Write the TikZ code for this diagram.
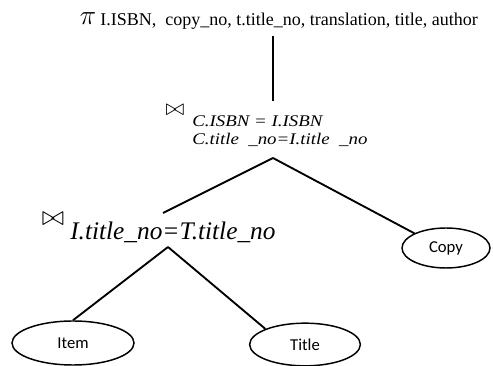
\documentclass[tikz,border=0pt]{standalone}
\usepackage{fontspec}
\setmainfont{Liberation Serif}
\newfontfamily\relfont{Carlito}
\newfontfamily\condfont{Liberation Serif}[FakeStretch=1.16]
\usetikzlibrary{shapes.geometric}

\tikzset{
  edge/.style={line width=1.4pt},
  relation/.style={draw,line width=1.1pt,ellipse,inner sep=0pt,
    font=\relfont\fontsize{12.5}{14}\selectfont},
  condition/.style={anchor=base west,inner sep=0pt,font=\itshape}
}

\begin{document}
\begin{tikzpicture}[x=0.75pt,y=-0.75pt]
\useasboundingbox (0,0) rectangle (493,366);
% projection
\node (pi) at (88,19) {\fontsize{22}{22}\selectfont$\pi$};
\node[anchor=base west,inner sep=0pt] (proj) at (100,26)
  {\fontsize{13.5}{15}\selectfont I.ISBN,\ \ copy\_no, t.title\_no, translation, title, author};
% upper join
\node (join1) at (175,110) {\fontsize{18}{18}\selectfont$\bowtie$};
\node[condition] (cond1a) at (192,127) {\condfont\itshape\fontsize{12.2}{14}\selectfont C.ISBN = I.ISBN};
\node[condition] (cond1b) at (192,145) {\condfont\itshape\fontsize{12.2}{14}\selectfont C.title \ \_no=I.title \ \_no};
% lower join
\node (join2) at (53,219) {\fontsize{20}{20}\selectfont$\bowtie$};
\node[condition] (cond2) at (70,240) {\fontsize{19}{21}\selectfont I.title\_no=T.title\_no};
% relations
\node[relation,minimum width=91.5pt,minimum height=33pt] (item) at (73,343) {Item};
\node[relation,minimum width=83pt,minimum height=32pt] (title) at (305,344.5) {Title};
\node[relation,minimum width=66pt,minimum height=30pt] (copy) at (446,248) {Copy};
% free ends
\coordinate (projend) at (273,36);
\coordinate (join1in) at (273,101);
\coordinate (join1out) at (273,158);
\coordinate (join2in) at (163,213);
\coordinate (join2out) at (168,247);
% connectors
\draw[edge] (projend) -- (join1in);
\draw[edge] (join1out) -- (join2in);
\draw[edge] (join1out) -- (copy.north west);
\draw[edge] (join2out) -- (item.north);
\draw[edge] (join2out) -- (title.north west);
\end{tikzpicture}
\end{document}
